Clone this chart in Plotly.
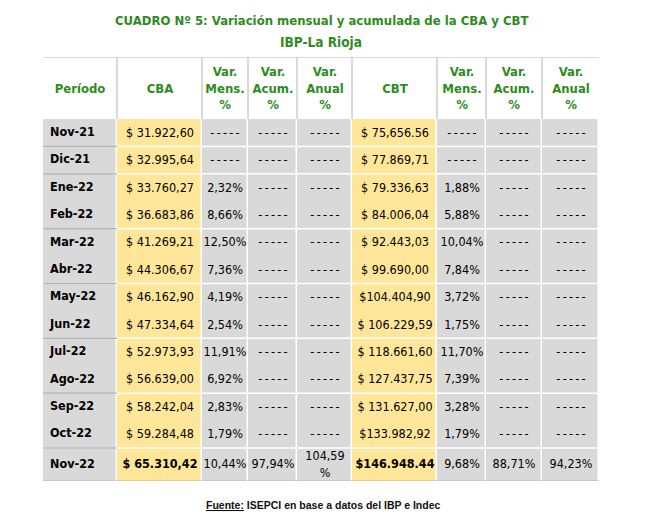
import plotly.graph_objects as go
import numpy as np

periods = ["Nov-21", "Dic-21", "Ene-22", "Feb-22", "Mar-22", "Abr-22", "May-22",
           "Jun-22", "Jul-22", "Ago-22", "Sep-22", "Oct-22", "Nov-22"]
cba = ["$ 31.922,60", "$ 32.995,64", "$ 33.760,27", "$ 36.683,86", "$ 41.269,21",
       "$ 44.306,67", "$ 46.162,90", "$ 47.334,64", "$ 52.973,93", "$ 56.639,00",
       "$ 58.242,04", "$ 59.284,48", "$ 65.310,42"]
cba_mens = ["-----", "-----", "2,32%", "8,66%", "12,50%", "7,36%", "4,19%", "2,54%",
            "11,91%", "6,92%", "2,83%", "1,79%", "10,44%"]
cba_acum = ["-----"] * 12 + ["97,94%"]
cba_anual = ["-----"] * 12 + ["104,59<br>%"]
cbt = ["$ 75,656.56", "$ 77.869,71", "$ 79.336,63", "$ 84.006,04", "$ 92.443,03",
       "$ 99.690,00", "$104.404,90", "$ 106.229,59", "$ 118.661,60", "$ 127.437,75",
       "$ 131.627,00", "$133.982,92", "$146.948.44"]
cbt_mens = ["-----", "-----", "1,88%", "5,88%", "10,04%", "7,84%", "3,72%", "1,75%",
            "11,70%", "7,39%", "3,28%", "1,79%", "9,68%"]
cbt_acum = ["-----"] * 12 + ["88,71%"]
cbt_anual = ["-----"] * 12 + ["94,23%"]

headers = ["Período", "CBA", "Var.<br>Mens.<br>%", "Var.<br>Acum.<br>%",
           "Var.<br>Anual<br>%", "CBT", "Var.<br>Mens.<br>%", "Var.<br>Acum.<br>%",
           "Var.<br>Anual<br>%"]

title_line1 = "CUADRO Nº 5: Variación mensual y acumulada de la CBA y CBT"
title_line2 = "IBP-La Rioja"
source_text = "<u>Fuente:</u> ISEPCI en base a datos del IBP e Indec"

# ---- layout helpers (styles / geometry) ----
GREEN = "#2E8B22"
GRAY = "#D9D9D9"
YELLOW = "#FFE699"
LINE_GRAY = "#B4B4B4"
NARROW = "DejaVu Sans Condensed, Liberation Sans Narrow, sans-serif"

# page body has an 8px margin, so the figure is drawn 8px in from the window corner
PAGE_OFF = 8
W, H = 651 - 2 * PAGE_OFF, 523 - 2 * PAGE_OFF


def px_x(v):
    return (v - PAGE_OFF) / W


def px_y(v):
    return 1 - (v - PAGE_OFF) / H


col_widths = [74, 85, 46, 49, 55, 85, 49, 56, 57]
col_fill = [0, 1, 0, 0, 0, 1, 0, 0, 0]          # 0 = gray, 1 = yellow
header_h = 62
row_h = 27.4
last_row_h = 33
row_group = [0, 1, 2, 2, 3, 3, 4, 4, 5, 5, 6, 6, 7]  # rows drawn as one block

n = len(periods)
last = n - 1
x_edges = np.concatenate([[0], np.cumsum(col_widths)])
row_heights = [row_h] * (n - 1) + [last_row_h]
y_edges = header_h + np.concatenate([[0], np.cumsum(row_heights)])
total_w = float(x_edges[-1])
total_h = float(y_edges[-1])
y_centers = (y_edges[:-1] + y_edges[1:]) / 2

THIN = "\u2009"


def show(v, i=None, bold_last=False):
    if set(v) == {"-"}:
        v = THIN.join(v)
    if bold_last and i == last:
        return f"<b>{v}</b>"
    return v


body_cols = [
    [""] * n,
    [show(v, i, True) for i, v in enumerate(cba)],
    [show(v) for v in cba_mens], [show(v) for v in cba_acum], [show(v) for v in cba_anual],
    [show(v, i, True) for i, v in enumerate(cbt)],
    [show(v) for v in cbt_mens], [show(v) for v in cbt_acum], [show(v) for v in cbt_anual],
]
body_text = [[body_cols[c][r] for c in range(len(body_cols))] for r in range(n)]
body_z = [col_fill[:] for _ in range(n)]

fig = go.Figure()

# header row
fig.add_trace(go.Heatmap(
    x=x_edges, y=[0, header_h], z=[[0] * len(headers)],
    colorscale=[[0, "white"], [1, "white"]], showscale=False,
    text=[[f"<b>{h}</b>" for h in headers]], texttemplate="%{text}",
    textfont=dict(family=NARROW, size=13, color=GREEN),
    hoverinfo="skip", xgap=0, ygap=0,
))

# body
fig.add_trace(go.Heatmap(
    x=x_edges, y=y_edges, z=body_z,
    colorscale=[[0, GRAY], [1, YELLOW]], zmin=0, zmax=1, showscale=False,
    text=body_text, texttemplate="%{text}",
    textfont=dict(family=NARROW, size=12.5, color="#000000"),
    hoverinfo="skip", xgap=1.5, ygap=0,
))

# period labels (left aligned)
fig.add_trace(go.Scatter(
    x=[x_edges[0] + 7] * n, y=y_centers, mode="text",
    text=[f"<b>{p}</b>" for p in periods], textposition="middle right",
    textfont=dict(family=NARROW, size=12.5, color="#000000"),
    hoverinfo="skip", showlegend=False, cliponaxis=False,
))

shapes = []
# header vertical separators
for xe in x_edges[1:-1]:
    shapes.append(dict(type="line", xref="x", yref="y", x0=xe, x1=xe, y0=0, y1=header_h,
                       line=dict(color=LINE_GRAY, width=1)))
# header top line and table bottom line
for ye in (0, total_h):
    shapes.append(dict(type="line", xref="x", yref="y", x0=0, x1=total_w, y0=ye, y1=ye,
                       line=dict(color=LINE_GRAY, width=1.2)))
# group separators in body
for r in range(n - 1):
    if row_group[r] != row_group[r + 1]:
        ye = y_edges[r + 1]
        shapes.append(dict(type="line", xref="x", yref="y", x0=x_edges[1], x1=total_w,
                           y0=ye, y1=ye, line=dict(color="white", width=1.5)))
        shapes.append(dict(type="line", xref="x", yref="y", x0=0, x1=x_edges[1],
                           y0=ye, y1=ye, line=dict(color=LINE_GRAY, width=1.2)))
# top line above title
shapes.append(dict(type="line", xref="paper", yref="paper",
                   x0=px_x(43), x1=px_x(599), y0=px_y(7), y1=px_y(7),
                   line=dict(color=LINE_GRAY, width=1)))

fig.add_annotation(text=f"<b>{title_line1}</b>", x=px_x(321), y=px_y(20),
                   xref="paper", yref="paper", showarrow=False, yanchor="middle",
                   font=dict(family=NARROW, size=13, color=GREEN))
fig.add_annotation(text=f"<b>{title_line2}</b>", x=px_x(321), y=px_y(42),
                   xref="paper", yref="paper", showarrow=False, yanchor="middle",
                   font=dict(family=NARROW, size=13.5, color=GREEN))
fig.add_annotation(text=f"<b>{source_text}</b>", x=px_x(323), y=px_y(505),
                   xref="paper", yref="paper", showarrow=False, yanchor="middle",
                   font=dict(family="Liberation Sans, Arial, sans-serif", size=10.5,
                             color="#111111"))

fig.update_layout(
    width=W, height=H, margin=dict(l=0, r=0, t=0, b=0),
    paper_bgcolor="white", plot_bgcolor="white", shapes=shapes,
    xaxis=dict(domain=[px_x(43), px_x(599)], range=[0, total_w], visible=False,
               fixedrange=True),
    yaxis=dict(domain=[px_y(481), px_y(57)], range=[total_h, 0], visible=False,
               fixedrange=True),
    showlegend=False,
)

fig.write_html("out.html")
